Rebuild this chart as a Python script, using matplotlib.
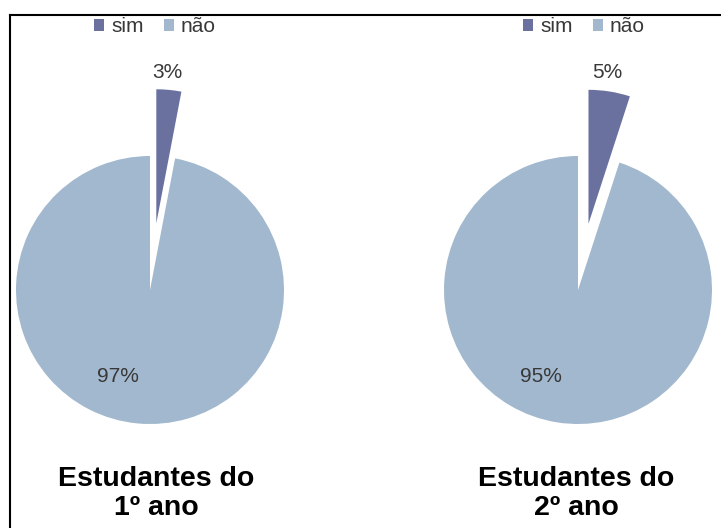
import matplotlib
matplotlib.use("Agg")
import matplotlib.pyplot as plt
from matplotlib.lines import Line2D

W, H = 721, 528

# dados
categorias = ['sim', 'não']
ano1 = [3, 97]
ano2 = [5, 95]
titulos = ['Estudantes do\n1º ano', 'Estudantes do\n2º ano']
cores = ['#6A719F', '#A2B8CE']

# layout (pixels a partir do topo)
centros = [(150, 290), (578, 290)]
raio_px = 134
pos_rotulos = [[(0.127, 1.62), (-0.243, -0.649)],
               [(0.216, 1.62), (-0.276, -0.649)]]
legend_pos = [(155, 27), (584, 27)]
titulo_pos = [(156, 466), (576, 466)]

plt.rcParams['font.family'] = ['Liberation Sans', 'DejaVu Sans']

fig = plt.figure(figsize=(W / 100, H / 100), dpi=100)

meia = 230
lim = meia / raio_px
for i, dados in enumerate([ano1, ano2]):
    cx, cy = centros[i]
    ax = fig.add_axes([(cx - meia) / W, (H - cy - meia) / H, 2 * meia / W, 2 * meia / H])
    wedges, texts, autotexts = ax.pie(dados, colors=cores, explode=[0.5, 0], startangle=90,
                                      counterclock=False, radius=1, autopct='%1.0f%%',
                                      textprops={'fontsize': 15, 'color': '#383838'})
    for t, p in zip(autotexts, pos_rotulos[i]):
        t.set_position(p)
    ax.set_xlim(-lim, lim)
    ax.set_ylim(-lim, lim)
    ax.set_aspect('equal')
    ax.axis('off')

    lx, ly = legend_pos[i]
    fig.legend(wedges, categorias, loc='center', bbox_to_anchor=(lx / W, 1 - ly / H),
               ncol=2, frameon=False, fontsize=15, handlelength=0.5, handleheight=0.5,
               handletextpad=0.33, columnspacing=0.95, borderpad=0, labelcolor='#383838')

    tx, ty = titulo_pos[i]
    fig.text(tx / W, 1 - ty / H, titulos[i], ha='center', va='top', fontsize=20.5,
             fontweight='bold', color='black', linespacing=1.15)

# moldura
fig.add_artist(Line2D([9.5 / W, 9.5 / W], [-0.1, 1 - 15 / H], color='black', lw=1.5))
fig.add_artist(Line2D([9.5 / W, 1.1], [1 - 15 / H, 1 - 15 / H], color='black', lw=1.5))

fig.savefig('out.png', dpi=100)
